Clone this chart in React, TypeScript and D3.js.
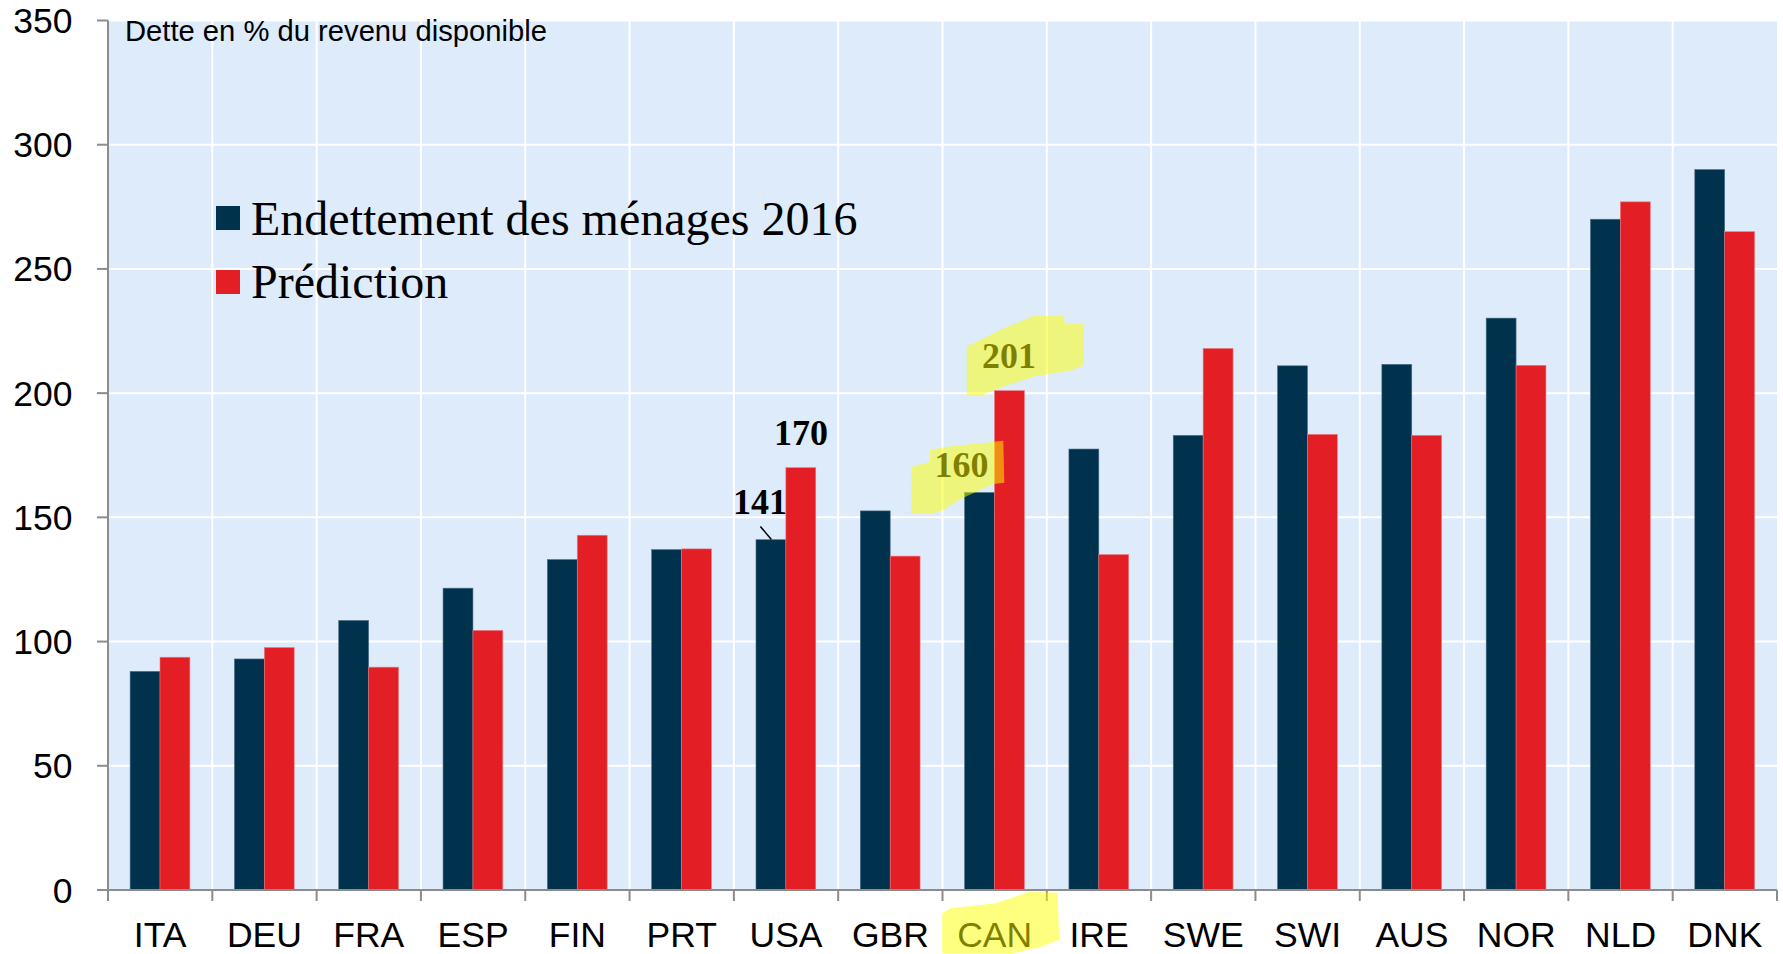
import React from "react";
import * as d3 from "d3";

const categories = ["ITA", "DEU", "FRA", "ESP", "FIN", "PRT", "USA", "GBR", "CAN", "IRE", "SWE", "SWI", "AUS", "NOR", "NLD", "DNK"];
const debt2016 = [88, 93, 108.5, 121.5, 133, 137, 141, 152.6, 160, 177.5, 183, 211, 211.6, 230.2, 270, 290];
const prediction = [93.7, 97.6, 89.7, 104.5, 142.8, 137.3, 170, 134.4, 201, 135, 218, 183.4, 183, 211.2, 277, 265];
const yTicks = [0, 50, 100, 150, 200, 250, 300, 350];
const seriesNames = ["Endettement des ménages 2016", "Prédiction"];
const seriesColors = ["#00324D", "#E31E24"];
const yTitle = "Dette en % du revenu disponible";

const W = 1783;
const H = 954;
const left = 108;
const right = 1777;
const top = 20.5;
const bottom = 890;

export default function App() {
  const x = d3.scaleBand<string>().domain(categories).range([left, right]).padding(0);
  const bw = x.bandwidth();
  const xSub = d3.scaleBand<string>().domain(["d", "p"]).range([bw * 0.212, bw * 0.785]).padding(0);
  const y = d3.scaleLinear().domain([0, 350]).range([bottom, top]);

  const boundaries = categories.map((c) => x(c) as number).concat([right]);
  const sans = "'Liberation Sans', Arial, sans-serif";
  const serif = "'Liberation Serif', 'Times New Roman', serif";

  const usaX = x("USA") as number;
  const canX = x("CAN") as number;

  const poly = (pts: number[][]) => pts.map((p) => p.join(",")).join(" ");

  return (
    <svg width={W} height={H} style={{ position: "absolute", left: 0, top: 0, background: "#fff" }}>
      <rect x={left} y={top} width={right - left} height={bottom - top} fill="#DDEBFB" />
      {yTicks.filter((t) => t > 0).map((t) => (
        <line key={"hg" + t} x1={left} x2={right} y1={y(t)} y2={y(t)} stroke="#fff" strokeWidth={2} />
      ))}
      {boundaries.slice(1, -1).map((b, i) => (
        <line key={"vg" + i} x1={b} x2={b} y1={top} y2={bottom} stroke="#fff" strokeWidth={2} />
      ))}
      {categories.map((c, i) => (
        <g key={c}>
          <rect x={(x(c) as number) + (xSub("d") as number)} y={y(debt2016[i])} width={xSub.bandwidth()} height={bottom - y(debt2016[i])} fill={seriesColors[0]} stroke="#4d6f86" strokeWidth={0.6} />
          <rect x={(x(c) as number) + (xSub("p") as number)} y={y(prediction[i])} width={xSub.bandwidth()} height={bottom - y(prediction[i])} fill={seriesColors[1]} stroke="#ec7a7e" strokeWidth={0.6} />
        </g>
      ))}
      {/* axes */}
      <line x1={left} x2={left} y1={top} y2={bottom + 11} stroke="#8c8c8c" strokeWidth={2} />
      <line x1={left} x2={right} y1={bottom} y2={bottom} stroke="#8c8c8c" strokeWidth={2} />
      {yTicks.map((t) => (
        <g key={"yt" + t}>
          <line x1={left - 11} x2={left} y1={y(t)} y2={y(t)} stroke="#8c8c8c" strokeWidth={2} />
          <text x={72.5} y={y(t) + 12.5} textAnchor="end" fontFamily={sans} fontSize={35.5} fill="#000">{t}</text>
        </g>
      ))}
      {boundaries.map((b, i) => (
        <line key={"xt" + i} x1={b} x2={b} y1={bottom} y2={bottom + 11} stroke="#8c8c8c" strokeWidth={2} />
      ))}
      {categories.map((c) => (
        <text key={"xl" + c} x={(x(c) as number) + bw / 2} y={947} textAnchor="middle" fontFamily={sans} fontSize={35.5} fill="#000">{c}</text>
      ))}
      <text x={125} y={41} fontFamily={sans} fontSize={29.2} fill="#000">{yTitle}</text>
      {/* legend */}
      <rect x={216} y={206} width={24} height={24} fill={seriesColors[0]} />
      <text x={251} y={235} fontFamily={serif} fontSize={48} fill="#000">{seriesNames[0]}</text>
      <rect x={216} y={270} width={24} height={24} fill={seriesColors[1]} />
      <text x={251} y={298} fontFamily={serif} fontSize={48} fill="#000">{seriesNames[1]}</text>
      {/* annotations */}
      <text x={usaX + 26} y={514} textAnchor="middle" fontFamily={serif} fontWeight="bold" fontSize={36} fill="#000">{debt2016[6]}</text>
      <line x1={usaX + 26.5} y1={526.5} x2={usaX + 37.5} y2={539.5} stroke="#000" strokeWidth={1.5} />
      <text x={usaX + 67} y={445} textAnchor="middle" fontFamily={serif} fontWeight="bold" fontSize={36} fill="#000">{prediction[6]}</text>
      <text x={canX + 19} y={477} textAnchor="middle" fontFamily={serif} fontWeight="bold" fontSize={36} fill="#000">{debt2016[8]}</text>
      <text x={canX + 66.5} y={368} textAnchor="middle" fontFamily={serif} fontWeight="bold" fontSize={36} fill="#000">{prediction[8]}</text>
      {/* highlighter marks */}
      <polygon points={poly([[911.7, 466.7], [930, 461.7], [930, 450], [946.7, 446.7], [1003.3, 440.7], [1004.3, 482.7], [993.3, 484], [960, 499.3], [943.3, 510], [933.3, 513.3], [911.7, 513.3]])} fill="#FFFF00" opacity={0.5} />
      <polygon points={poly([[966.7, 346.7], [1000, 330], [1033.3, 316], [1063.3, 316], [1065, 323.3], [1084, 324], [1084, 365], [1073.3, 370], [1033.3, 376.7], [1013.3, 383.3], [993.3, 390], [983.3, 395], [966.7, 395]])} fill="#FFFF00" opacity={0.5} />
      <polygon points={poly([[950.7, 908.3], [995.7, 903.3], [1029.5, 891.7], [1057.7, 892.7], [1059.3, 940], [1040.8, 946.7], [1012.6, 953.3], [942.2, 953.3], [942.2, 913.3]])} fill="#FFFF00" opacity={0.5} />
    </svg>
  );
}
